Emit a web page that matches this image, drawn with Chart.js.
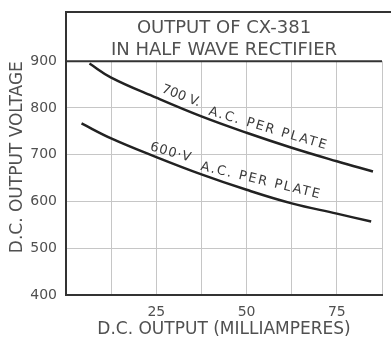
<!DOCTYPE html>
<html>
<head>
<meta charset="utf-8">
<script src="https://cdn.jsdelivr.net/npm/chart.js@4"></script>
<style>
  html, body { margin: 0; padding: 0; background: #fff; }
  #wrap { width: 391px; height: 340px; }
</style>
</head>
<body>
<div id="wrap"><canvas id="chart" width="391" height="340"></canvas></div>
<script>
// values (mA, volts)
const ma700 = [6.5, 12.5, 25, 37.5, 50, 62.5, 75, 85];
const volts700 = [895, 865, 822, 782, 747, 715, 686, 664];
const ma600 = [4.3, 12.5, 25, 37.5, 50, 62.5, 75, 84.5];
const volts600 = [767, 735, 695, 658, 625, 596, 574, 557];

const xTicksShown = [25, 50, 75];
const titleLines = ["OUTPUT OF CX-381", "IN HALF WAVE RECTIFIER"];

const INK = "#333";
const TEXT = "#505050";
const GRID = "#c6c6c6";

function toPoints(xs, ys) {
  return xs.map((x, i) => ({ x: x, y: ys[i] }));
}

// curve labels, anchored in data units (baseline-left of each piece)
const curveLabels = [
  { text: "700 V.", x: 26.3, y: 834, angle: 21, spacing: 0 },
  { text: "A.C. PER PLATE", x: 39.3, y: 786, angle: 16.5, spacing: 1.8 },
  { text: "600·V", x: 23.1, y: 710, angle: 16, spacing: 1 },
  { text: "A.C. PER PLATE", x: 37.1, y: 668, angle: 13.5, spacing: 1.8 }
];

const frame = {
  id: "frame",
  afterDraw(chart) {
    const ctx = chart.ctx;
    const a = chart.chartArea;
    ctx.save();
    ctx.strokeStyle = INK;
    ctx.lineWidth = 2;
    ctx.beginPath();
    ctx.moveTo(a.left, a.top);
    ctx.lineTo(a.left, 12);
    ctx.lineTo(chart.width, 12);
    ctx.moveTo(a.left, a.top);
    ctx.lineTo(a.right, a.top);
    ctx.stroke();
    ctx.restore();
  },
  afterDatasetsDraw(chart) {
    const ctx = chart.ctx;
    const xs = chart.scales.x, ys = chart.scales.y;
    ctx.save();
    ctx.fillStyle = "#3a3a3a";
    ctx.font = "13px 'DejaVu Sans'";
    ctx.textBaseline = "alphabetic";
    ctx.textAlign = "left";
    curveLabels.forEach(l => {
      ctx.save();
      ctx.letterSpacing = l.spacing + "px";
      ctx.translate(xs.getPixelForValue(l.x), ys.getPixelForValue(l.y));
      ctx.rotate(l.angle * Math.PI / 180);
      ctx.fillText(l.text, 0, 0);
      ctx.restore();
    });
    ctx.restore();
  }
};

new Chart(document.getElementById("chart"), {
  type: "line",
  data: {
    datasets: [
      { label: "700 V A.C. per plate", data: toPoints(ma700, volts700) },
      { label: "600 V A.C. per plate", data: toPoints(ma600, volts600) }
    ]
  },
  options: {
    responsive: false,
    devicePixelRatio: 1,
    animation: false,
    layout: { padding: 0 },
    elements: {
      line: { borderColor: "#222", borderWidth: 2.5, tension: 0.4 },
      point: { radius: 0 }
    },
    plugins: {
      legend: { display: false },
      tooltip: { enabled: false },
      title: {
        display: true,
        fullSize: false,
        text: titleLines,
        color: TEXT,
        font: { family: "'DejaVu Sans'", size: 18, weight: "normal", lineHeight: 1.2 },
        padding: { top: 18, bottom: 0 }
      }
    },
    scales: {
      x: {
        type: "linear",
        min: 0,
        max: 87.5,
        afterFit(scale) { scale.height = 45; },
        border: { color: INK, width: 2 },
        grid: { color: GRID, lineWidth: 1, drawTicks: false },
        ticks: {
          stepSize: 12.5,
          autoSkip: false,
          maxRotation: 0,
          padding: 9,
          color: TEXT,
          font: { family: "'DejaVu Sans'", size: 14 },
          callback: v => (xTicksShown.includes(v) ? String(v) : "")
        },
        title: {
          display: true,
          text: "D.C. OUTPUT (MILLIAMPERES)",
          color: TEXT,
          font: { family: "'DejaVu Sans'", size: 17, lineHeight: 1.2 },
          padding: { top: 0, bottom: 0 }
        }
      },
      y: {
        min: 400,
        max: 900,
        afterFit(scale) { scale.width = 66; },
        border: { color: INK, width: 2 },
        grid: { color: GRID, lineWidth: 1, drawTicks: false },
        ticks: {
          stepSize: 100,
          padding: 9,
          color: TEXT,
          font: { family: "'DejaVu Sans'", size: 14 }
        },
        title: {
          display: true,
          text: "D.C. OUTPUT VOLTAGE",
          align: "end",
          color: TEXT,
          font: { family: "'DejaVu Sans'", size: 17, lineHeight: 1.2 },
          padding: { top: 7, bottom: 0 }
        }
      }
    }
  },
  plugins: [frame]
});
</script>
</body>
</html>
